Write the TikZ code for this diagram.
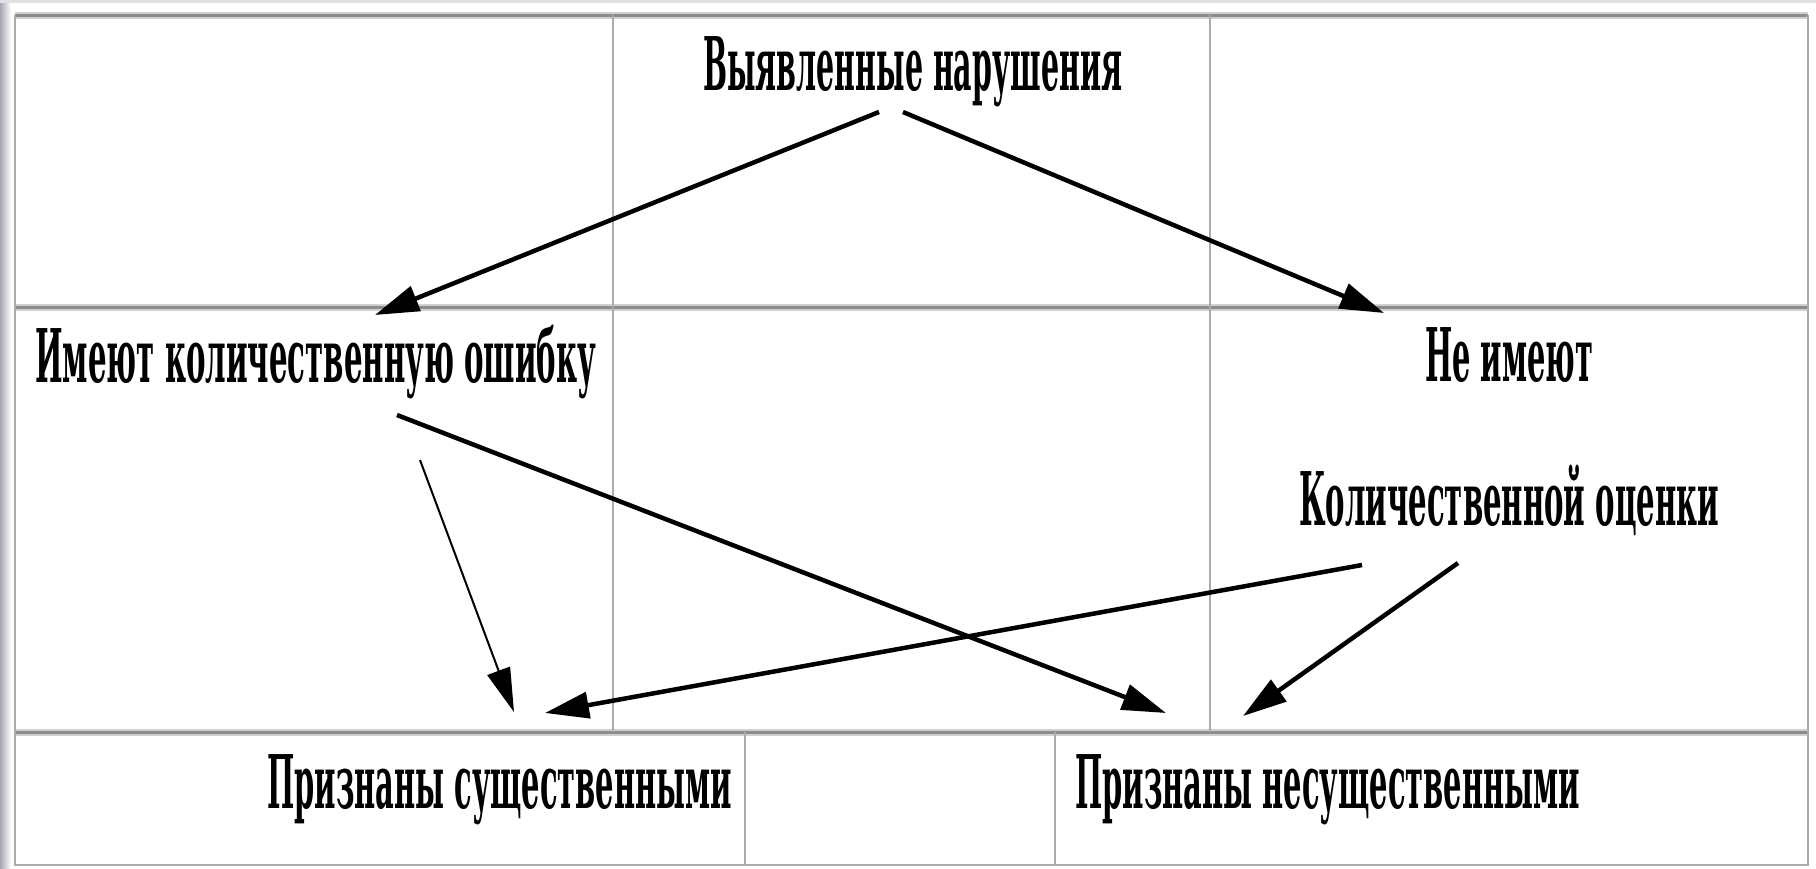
\documentclass[tikz,border=0pt]{standalone}
\usepackage{fontspec}
\setmainfont{DejaVu Serif}
\usetikzlibrary{arrows.meta,calc}
\newcommand\mylab[2]{\resizebox{#1}{\height}{\fontsize{74}{80}\selectfont\bfseries #2}}
\begin{document}
\begin{tikzpicture}[x=1pt,y=-1pt,
  vgrid/.style={draw=black!33, line width=1.5pt},
  hgridsoft/.style={draw=black!18, line width=7pt},
  hgrid/.style={draw=black!45, line width=3pt},
  lbl/.style={inner sep=0pt, anchor=base west},
  conn/.style={line width=4.5pt, -{Triangle[length=44pt,width=26pt]}},
  thinconn/.style={line width=2pt, -{Triangle[length=44pt,width=24pt]}}]
\useasboundingbox (0,0) rectangle (1816,868);
\fill[white] (0,0) rectangle (1816,868);
% left slide edge
\shade[left color=blue!15!black!35, right color=white] (0,0) rectangle (11,868);
\fill[blue!8!black!12] (0,0) rectangle (1816,3);
% table grid
\foreach \yy in {15,307,732}{
  \draw[hgridsoft] (15,\yy) -- (1808,\yy);
  \draw[hgrid] (15,\yy) -- (1808,\yy);
}
\draw[vgrid] (15,15) -- (15,865) -- (1808,865) -- (1808,15);
\draw[vgrid] (613,15) -- (613,732);
\draw[vgrid] (1210,15) -- (1210,732);
\draw[vgrid] (745,732) -- (745,865);
\draw[vgrid] (1055,732) -- (1055,865);
% labels
\node[lbl] (t1) at (703,90)  {\mylab{419pt}{Выявленные нарушения}};
\node[lbl] (t2) at (35,382)  {\mylab{561pt}{Имеют количественную ошибку}};
\node[lbl] (t3) at (1425,381) {\mylab{168pt}{Не имеют}};
\node[lbl] (t4) at (1299,525) {\mylab{420pt}{Количественной оценки}};
\node[lbl] (t5) at (267,808) {\mylab{465pt}{Признаны существенными}};
\node[lbl] (t6) at (1075,808) {\mylab{505pt}{Признаны несущественными}};
% connectors
\draw[conn] ($(t1.base west)+(176,22)$) -- ($(t2.base west)+(340,-67)$);
\draw[conn] ($(t1.base west)+(200,22)$) -- ($(t3.base west)+(-41,-68)$);
\draw[conn] ($(t2.base west)+(362,33)$) -- ($(t6.base west)+(91,-95)$);
\draw[thinconn] ($(t2.base west)+(385,78)$) -- ($(t5.base west)+(247,-96)$);
\draw[conn] ($(t4.base west)+(63,40)$) -- ($(t5.base west)+(278,-95)$);
\draw[conn] ($(t4.base west)+(159,38)$) -- ($(t6.base west)+(168,-92)$);
\end{tikzpicture}
\end{document}
